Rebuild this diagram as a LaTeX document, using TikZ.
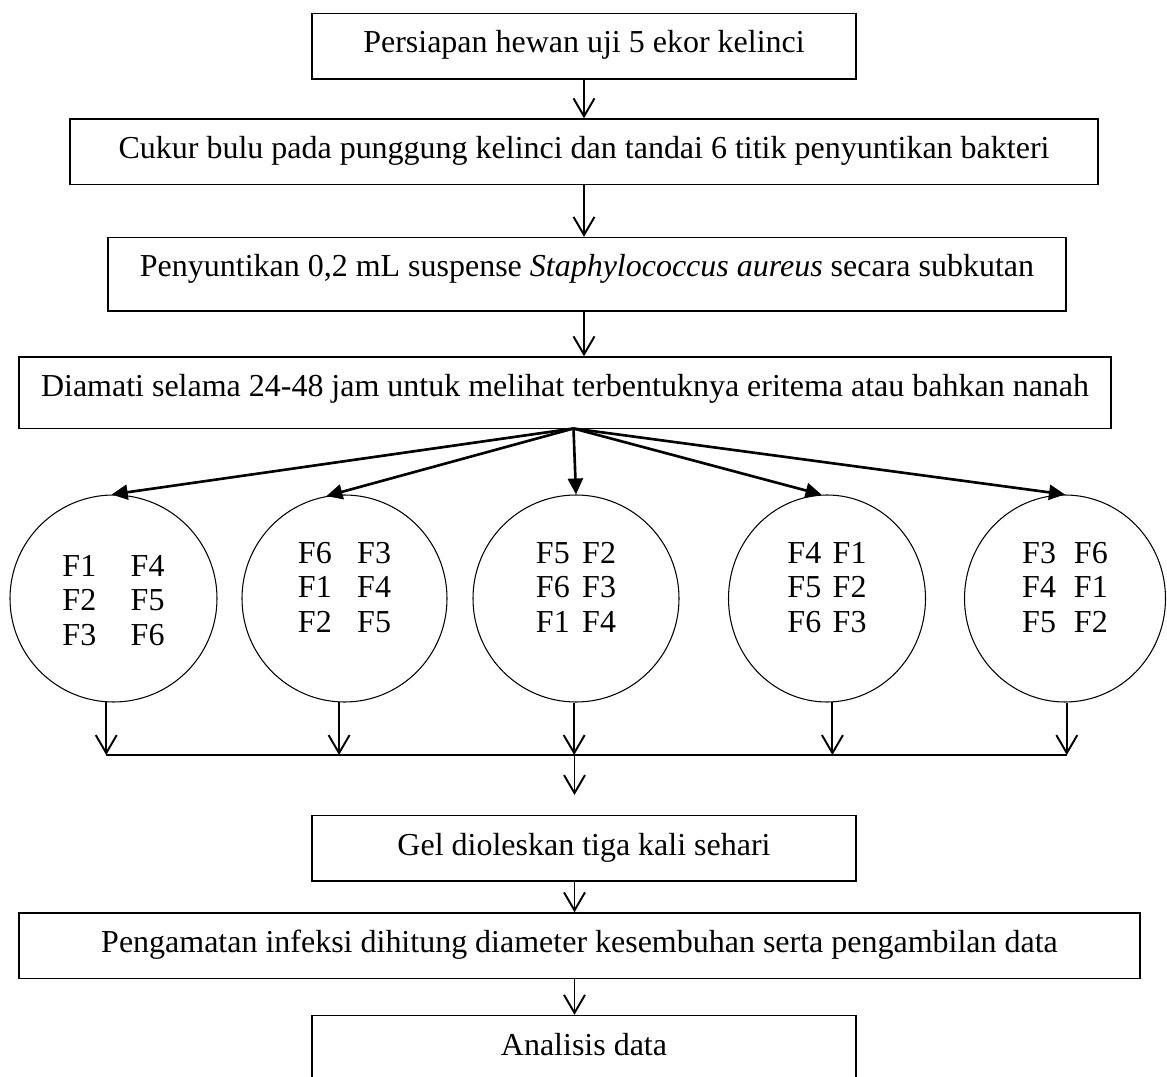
\documentclass[tikz,border=0pt]{standalone}
\usepackage{fontspec}
\setmainfont{Liberation Serif}
\usepackage{tikz}
\usetikzlibrary{arrows.meta,shapes.geometric}
\newcommand{\flowsize}{\fontsize{18.2}{19.6}\selectfont}
\newcommand{\fcells}[2]{\begin{tabular}{@{}l@{\hspace{#1}}l@{}}#2\end{tabular}}
\tikzset{
	box/.style={draw, line width=0.8pt, anchor=base, inner ysep=0pt,
			text height=0.79cm, text depth=0.52cm, font=\flowsize},
	group/.style={draw, ellipse, line width=0.6pt, inner sep=0pt,
			minimum height=4.14cm, text height=1.2cm, text depth=1.2cm, font=\flowsize},
	flow/.style={line width=1.1pt, -{Straight Barb[length=0.36cm,width=0.42cm]}},
	fan/.style={line width=1.5pt, -{Triangle[length=0.32cm,width=0.3cm]}}
}

\begin{document}
\begin{tikzpicture}
		\useasboundingbox (0,0) rectangle (23.34,-21.54);
		\clip (0,0) rectangle (23.34,-21.54);

		% Preparation steps
		\node[box, minimum width=10.88cm] (prep) at (11.68,-1.06) {Persiapan hewan uji 5 ekor kelinci};
		\node[box, minimum width=20.56cm] (shave) at (11.68,-3.17) {Cukur bulu pada punggung kelinci dan tandai 6 titik penyuntikan bakteri};
		\node[box, minimum width=19.16cm, text depth=0.68cm] (inject) at (11.74,-5.54) {Penyuntikan 0,2 mL suspense \textit{Staphylococcus aureus} secara subkutan};
		\node[box, minimum width=21.84cm, text depth=0.64cm] (observe) at (11.30,-7.93) {Diamati selama 24-48 jam untuk melihat terbentuknya eritema atau bahkan nanah};

		\draw[flow] (prep.south) -- (shave.north);
		\draw[flow] (shave.south) -- (shave.south |- inject.north);
		\draw[flow] (shave.south |- inject.south) -- (shave.south |- observe.north);

		% Five rabbits
		\coordinate (fan) at (11.47,-8.57);
		\node[group, minimum width=4.14cm, text height=1.3cm, text depth=0.78cm] (g1) at (2.27,-11.97) {\fcells{0.69cm}{F1 & F4\\ F2 & F5\\ F3 & F6}};
		\node[group, minimum width=4.10cm] (g2) at (6.89,-11.97) {\fcells{0.51cm}{F6 & F3\\ F1 & F4\\ F2 & F5}};
		\node[group, minimum width=4.12cm] (g3) at (11.52,-11.97) {\fcells{0.25cm}{F5 & F2\\ F6 & F3\\ F1 & F4}};
		\node[group, minimum width=3.94cm] (g4) at (16.54,-11.97) {\fcells{0.23cm}{F4 & F1\\ F5 & F2\\ F6 & F3}};
		\node[group, minimum width=4.02cm] (g5) at (21.30,-11.97) {\fcells{0.36cm}{F3 & F6\\ F4 & F1\\ F5 & F2}};

		\foreach \g/\a in {g1/91, g2/100, g3/north, g4/93, g5/north}
			\draw[fan] (fan) -- (\g.\a);

		% Joining line
		\coordinate (join) at (11.49,-15.1);
		\coordinate (joinend) at (11.49,-15.9);
		\foreach \g/\a in {g1/266, g2/267, g3/269, g4/273, g5/271}
			\draw[flow] (\g.\a) -- (\g.\a |- join);
		\draw[line width=1.5pt] (g1.266 |- join) -- (g5.271 |- join);
		\draw[flow] (join) -- (joinend);

		% Treatment and analysis
		\node[box, minimum width=10.88cm] (gel) at (11.68,-17.1) {Gel dioleskan tiga kali sehari};
		\node[box, minimum width=22.42cm] (measure) at (11.59,-19.05) {Pengamatan infeksi dihitung diameter kesembuhan serta pengambilan data};
		\node[box, minimum width=10.88cm, text depth=1.2cm] (analysis) at (11.68,-21.1) {Analisis data};

		\draw[flow] (gel.south -| join) -- (measure.north -| join);
		\draw[flow] (measure.south -| join) -- (analysis.north -| join);
	\end{tikzpicture}
\end{document}
